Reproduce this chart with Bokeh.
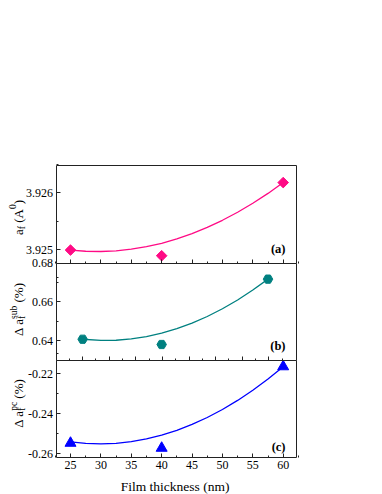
import math
from bokeh.plotting import figure
from bokeh.models import Range1d, FixedTicker, Label, LinearAxis
from bokeh.embed import file_html
from bokeh.resources import INLINE

# ---------------- data ----------------
thick_a = [25, 40, 60]
a_f = [3.92499, 3.92489, 3.92618]
fit_x_a = [25, 27.5, 30, 32.5, 35, 37.5, 40, 42.5, 45, 47.5, 50, 52.5, 55, 57.5, 60]
fit_a = [3.92499, 3.924969, 3.924965, 3.924977, 3.925005, 3.925049, 3.92511,
         3.925187, 3.92528, 3.925389, 3.925515, 3.925657, 3.925815, 3.925989, 3.92618]

thick_b = [27, 40, 57.5]
d_sub = [0.6408, 0.6381, 0.6717]
fit_x_b = [27, 30, 32.5, 35, 37.5, 40, 42.5, 45, 47.5, 50, 52.5, 55, 57.5]
fit_b = [0.6408, 0.64019, 0.64029, 0.64094, 0.64215, 0.64391, 0.64622,
         0.64908, 0.6525, 0.65647, 0.661, 0.66608, 0.67171]

thick_c = [25, 40, 60]
d_pc = [-0.2548, -0.2573, -0.21655]
fit_x_c = [25, 27.5, 30, 32.5, 35, 37.5, 40, 42.5, 45, 47.5, 50, 52.5, 55, 57.5, 60]
fit_c = [-0.25417, -0.25494, -0.25518, -0.25489, -0.25407, -0.25271, -0.25083,
         -0.24842, -0.24547, -0.242, -0.23799, -0.23346, -0.22839, -0.2228, -0.21667]

x_ticks = [25, 30, 35, 40, 45, 50, 55, 60]
x_tick_labels = ["25", "30", "35", "40", "45", "50", "55", "60"]
x_minor = [22.5, 27.5, 32.5, 37.5, 42.5, 47.5, 52.5, 57.5, 62.5]
b_x_ticks = [27.0, 31.375, 35.75, 40.125, 44.5, 48.875, 53.25, 57.625]
b_x_minor = [24.8125, 29.1875, 33.5625, 37.9375, 42.3125, 46.6875, 51.0625, 55.4375, 59.8125]

ya_ticks = [3.925, 3.926]
ya_labels = ["3.925", "3.926"]
ya_minor = [3.9245, 3.9255, 3.9265]
yb_ticks = [0.64, 0.66, 0.68]
yb_labels = ["0.64", "0.66", "0.68"]
yb_minor = [0.63, 0.65, 0.67]
yc_ticks = [-0.26, -0.24, -0.22]
yc_labels = ["-0.26", "-0.24", "-0.22"]
yc_minor = [-0.25, -0.23, -0.21]

x_label = "Film thickness (nm)"
tags = ["(a)", "(b)", "(c)"]

# ---------------- layout / styling ----------------
FONT = "Liberation Serif"
FRAME = "#222222"
PINK = "#FF0A85"
TEAL = "#008080"
BLUE = "#0000FF"
W, H = 320, 494

# visible panel box (pixels in the canvas) and the values at its edges
PX_LEFT, PX_RIGHT = 55.5, 295.5
X_AT_PX = (25.0, 70.0, 60.0, 282.7)        # value, pixel, value, pixel
PANEL_PX = [(164.5, 262.5), (262.5, 359.5), (359.5, 456.5)]
A_LIM = (3.924762, 3.92649)
B_LIM = (0.63013, 0.68)
C_LIM = (-0.26175, -0.21325)


def x_full_range():
    v0, p0, v1, p1 = X_AT_PX
    k = (v1 - v0) / (p1 - p0)
    return Range1d(start=v0 - p0 * k, end=v0 + (W - p0) * k), k


xr, kx = x_full_range()
X0 = X_AT_PX[0] + (PX_LEFT - X_AT_PX[1]) * kx
X1 = X_AT_PX[0] + (PX_RIGHT - X_AT_PX[1]) * kx


def y_full_range(lim, px):
    lo, hi = lim
    top, bot = px
    k = (hi - lo) / (bot - top)
    return Range1d(start=lo - (H - bot) * k, end=hi + top * k)


ra = y_full_range(A_LIM, PANEL_PX[0])
rb = y_full_range(B_LIM, PANEL_PX[1])
rc = y_full_range(C_LIM, PANEL_PX[2])

p = figure(width=W, height=H, x_range=xr, y_range=ra, title=None,
           x_axis_location=None, y_axis_location=None, min_border=0,
           output_backend="svg", toolbar_location=None)
p.extra_y_ranges = {"b": rb, "c": rc}
p.grid.visible = False
p.outline_line_color = None
p.background_fill_color = "white"
p.border_fill_color = "white"


def style(ax):
    ax.axis_line_color = FRAME
    ax.axis_line_width = 1
    ax.major_tick_in = 4
    ax.major_tick_out = 0
    ax.minor_tick_in = 2
    ax.minor_tick_out = 0
    ax.major_tick_line_color = FRAME
    ax.minor_tick_line_color = FRAME
    ax.major_label_text_font = FONT
    ax.major_label_text_font_size = "12px"
    ax.major_label_text_color = "black"
    return ax


def y_axis(name, lim, ticks, labels, minor):
    ax = LinearAxis(y_range_name=name, fixed_location=X0, bounds=lim,
                    ticker=FixedTicker(ticks=ticks, minor_ticks=minor),
                    major_label_overrides={t: l for t, l in zip(ticks, labels)},
                    major_label_standoff=3)
    p.add_layout(style(ax), "left")
    rax = LinearAxis(y_range_name=name, fixed_location=X1, bounds=lim,
                     ticker=FixedTicker(ticks=[]))
    p.add_layout(style(rax), "right")


def x_axis(name, loc, ticks, minor, labels=None):
    ax = LinearAxis(y_range_name=name, fixed_location=loc, bounds=(X0, X1),
                    ticker=FixedTicker(ticks=ticks, minor_ticks=minor))
    style(ax)
    if labels is None:
        ax.major_label_text_alpha = 0
        ax.major_label_standoff = 0
    else:
        ax.major_label_overrides = {t: l for t, l in zip(ticks, labels)}
        ax.major_label_standoff = 4
    p.add_layout(ax, "below")


y_axis("default", A_LIM, ya_ticks, ya_labels, ya_minor)
y_axis("b", B_LIM, yb_ticks, yb_labels, yb_minor)
y_axis("c", C_LIM, yc_ticks, yc_labels, yc_minor)

top_ax = LinearAxis(y_range_name="default", fixed_location=A_LIM[1], bounds=(X0, X1),
                    ticker=FixedTicker(ticks=[]))
p.add_layout(style(top_ax), "above")
x_axis("default", A_LIM[0], x_ticks, x_minor)
x_axis("b", B_LIM[0], b_x_ticks, b_x_minor)
x_axis("c", C_LIM[0], x_ticks, x_minor, labels=x_tick_labels)

# ---------------- data marks ----------------
p.line(fit_x_a, fit_a, line_color=PINK, line_width=1.3)
p.scatter(thick_a, a_f, marker="square", angle=math.pi / 4, size=7.5,
          fill_color=PINK, line_color=PINK)

p.line(fit_x_b, fit_b, line_color=TEAL, line_width=1.3, y_range_name="b")
p.scatter(thick_b, d_sub, marker="hex", size=9.5, fill_color=TEAL,
          line_color=TEAL, y_range_name="b")

p.line(fit_x_c, fit_c, line_color=BLUE, line_width=1.3, y_range_name="c")
p.scatter(thick_c, d_pc, marker="triangle", size=11, fill_color=BLUE,
          line_color=BLUE, y_range_name="c")

# ---------------- texts ----------------
EM = {"a": 0.444, "f": 0.333, " ": 0.25, "(": 0.333, "A": 0.722, "0": 0.5,
      ")": 0.333, "Δ": 0.612, "s": 0.389, "u": 0.5, "b": 0.5, "%": 0.833,
      "p": 0.5, "c": 0.444}


def tw(text, size):
    return sum(EM.get(ch, 0.5) for ch in text) * size


def rlabel(x, y, text, size):
    p.add_layout(Label(x=x, y=y, x_units="screen", y_units="screen",
                       text=text, angle=math.pi / 2, text_font=FONT,
                       text_font_size=f"{size}px", text_align="left",
                       text_baseline="alphabetic", text_color="black"))


def seg_len(s, main, small):
    if s[0] == "m":
        return tw(s[1], main)
    if s[0] == "gap":
        return s[1] * main
    return max(tw(s[1], small), tw(s[2], small))


def ylabel(yc, segs, x0=18, main=13, small=9.5):
    total = sum(seg_len(s, main, small) for s in segs)
    y = yc - total / 2
    for s in segs:
        if s[0] == "m":
            rlabel(x0, y, s[1], main)
        elif s[0] == "s":
            sub, sup, shift = s[1], s[2], s[3]
            if sub:
                rlabel(x0 + 3, y, sub, small)
            if sup:
                rlabel(x0 - shift, y, sup, small)
        y += seg_len(s, main, small)


ylabel(H - 217, [("m", "a"), ("s", "f", "", 0), ("gap", 0.25), ("m", "(A"),
                 ("s", "", "0", 6), ("m", ")")])
ylabel(H - 309, [("m", "Δ"), ("gap", 0.25), ("m", "a"), ("s", "f", "sub", 5),
                 ("gap", 0.25), ("m", "(%)")])
ylabel(H - 403, [("m", "Δ"), ("gap", 0.25), ("m", "a"), ("s", "f", "pc", 5),
                 ("gap", 0.25), ("m", "(%)")])

for tag, base in zip(tags, [248.5, 345.5, 446.0]):
    p.add_layout(Label(x=285, y=H - base, x_units="screen", y_units="screen",
                       text=tag, text_font=FONT, text_font_size="12.5px",
                       text_font_style="bold", text_align="right",
                       text_baseline="alphabetic", text_color="black"))

p.add_layout(Label(x=(PX_LEFT + PX_RIGHT) / 2 - 1, y=H - 485.5, x_units="screen",
                   y_units="screen", text=x_label, text_font=FONT,
                   text_font_size="13.5px", text_align="center",
                   text_baseline="alphabetic", text_color="black"))

open("out.html", "w").write(file_html(p, INLINE))
